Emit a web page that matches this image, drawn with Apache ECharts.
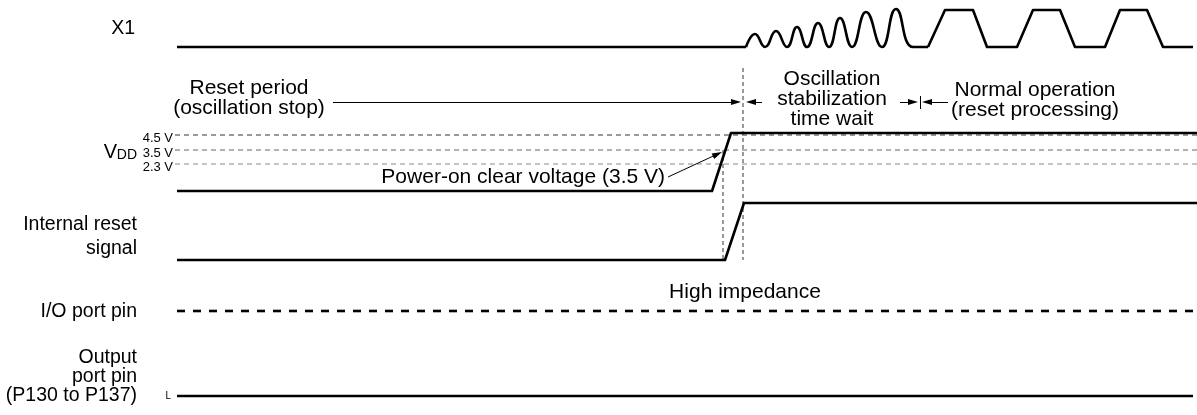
<!DOCTYPE html>
<html>
<head>
<meta charset="utf-8">
<style>
  html, body { margin: 0; padding: 0; background: #fff; }
  #chart { width: 1197px; height: 415px; }
</style>
<script src="https://cdn.jsdelivr.net/npm/echarts@6/dist/echarts.min.js"></script>
</head>
<body>
<div id="chart"></div>
<script>
// time runs 0..1197 along x, signal level runs 0..415 downward on y
const x1Idle = [[177, 47], [746, 47]];
const x1Startup = [
  [746, 47], [755, 34], [765, 47], [776, 31], [787, 47], [797, 27], [807, 47],
  [818, 23], [829, 47], [840, 18], [852, 47], [866, 12], [882, 47], [896, 9],
  [913, 47], [928, 47]
];
const x1Clock = [
  [928, 47], [945, 10], [973, 10], [987, 47], [1017, 47], [1033, 10], [1060, 10],
  [1075, 47], [1105, 47], [1120, 10], [1147, 10], [1163, 47], [1193, 47]
];
const vddWave = [[177, 191], [712, 191], [731, 133], [1197, 133]];
const resetWave = [[177, 260], [725, 260], [744, 203], [1197, 203]];
const ioPortWave = [[177, 311], [1193, 311]];
const outPortWave = [[177, 396], [1193, 396]];

const vddLevelNames = ['4.5 V', '3.5 V', '2.3 V'];
const vddLevelY = [135, 150, 164];
const vddLevelFrom = 175;

const guideLines = [
  [[723, 150], [723, 260]],
  [[743, 68], [743, 260]]
];
// [tail, tip]
const arrowLines = [
  [[333, 102], [741, 102]],
  [[762, 102], [746, 102]],
  [[900, 102], [918, 102]],
  [[948, 102], [922, 102]],
  [[668, 177], [722, 152]]
];
const tickLines = [[[920, 96], [920, 109]]];

const FONT = "'Liberation Sans', Arial, Helvetica, sans-serif";
const HEAD = [6, 10];
const ROW = 19.5;

function txt(text, x, y, align, size) {
  return {
    type: 'text',
    x: x,
    y: y,
    silent: true,
    style: {
      text: text,
      fill: '#000',
      font: (size || 21) + 'px ' + FONT,
      align: align || 'center',
      verticalAlign: 'middle'
    }
  };
}

function wave(data, opts) {
  return Object.assign({
    type: 'line',
    data: data,
    symbol: 'none',
    silent: true,
    animation: false,
    lineStyle: { color: '#000', width: 2.6, join: 'round' }
  }, opts || {});
}

// pull each shaft back by half a head so the arrow tip lands on the read point
const arrowData = arrowLines.map(function (a) {
  const dx = a[1][0] - a[0][0], dy = a[1][1] - a[0][1];
  const len = Math.sqrt(dx * dx + dy * dy);
  const k = HEAD[1] / 2 / len;
  return { coords: [a[0], [a[1][0] - dx * k, a[1][1] - dy * k]] };
});

const series = [
  wave(x1Idle),
  wave(x1Startup, { smooth: 0.5 }),
  wave(x1Clock),
  wave(vddWave),
  wave(resetWave),
  wave(ioPortWave, { lineStyle: { color: '#000', width: 2.6, type: [8, 8] } }),
  wave(outPortWave)
];

vddLevelY.forEach(function (y, i) {
  series.push(wave([[vddLevelFrom, y], [1197, y]], {
    z: 1,
    lineStyle: { color: ['#333', '#666', '#888'][i], width: 1, type: [5, 4] }
  }));
});

guideLines.forEach(function (g) {
  series.push(wave(g, { z: 1, lineStyle: { color: '#333', width: 1, type: [4, 3] } }));
});

series.push({
  type: 'lines',
  coordinateSystem: 'cartesian2d',
  silent: true,
  animation: false,
  symbol: ['none', 'path://M3,0 L6,10 L0,10 Z'],
  symbolSize: [HEAD, HEAD],
  lineStyle: { color: '#000', width: 1, opacity: 1 },
  data: arrowData
});
series.push({
  type: 'lines',
  coordinateSystem: 'cartesian2d',
  silent: true,
  animation: false,
  lineStyle: { color: '#000', width: 1, opacity: 1 },
  data: tickLines.map(function (c) { return { coords: c }; })
});

const graphic = [
  txt('X1', 135, 29, 'right', ROW),
  txt('Reset period', 249, 88),
  txt('(oscillation stop)', 249, 108),
  txt('Oscillation', 832, 79),
  txt('stabilization', 832, 99),
  txt('time wait', 832, 119),
  txt('Normal operation', 1035, 90),
  txt('(reset processing)', 1035, 110),
  txt('V', 117, 152, 'right', 20),
  txt('DD', 137, 155.5, 'right', 14),
  txt('Power-on clear voltage (3.5 V)', 665, 177.5, 'right'),
  txt('Internal reset', 137, 225, 'right', ROW),
  txt('signal', 137, 249, 'right', ROW),
  txt('High impedance', 745, 292.5),
  txt('I/O port pin', 137, 311.5, 'right', ROW),
  txt('Output', 137, 358, 'right', ROW),
  txt('port pin', 137, 377, 'right', ROW),
  txt('(P130 to P137)', 137, 396, 'right', ROW),
  txt('L', 171, 396, 'right', 10)
];
vddLevelNames.forEach(function (name, i) {
  graphic.push(txt(name, 173, vddLevelY[i] + 3, 'right', 13));
});

const chart = echarts.init(document.getElementById('chart'), null, { renderer: 'canvas' });
chart.setOption({
  animation: false,
  backgroundColor: '#fff',
  grid: { left: 0, right: 0, top: 0, bottom: 0, containLabel: false },
  xAxis: { type: 'value', min: 0, max: 1197, show: false },
  yAxis: { type: 'value', min: 0, max: 415, inverse: true, show: false },
  series: series,
  graphic: graphic
});
</script>
</body>
</html>
